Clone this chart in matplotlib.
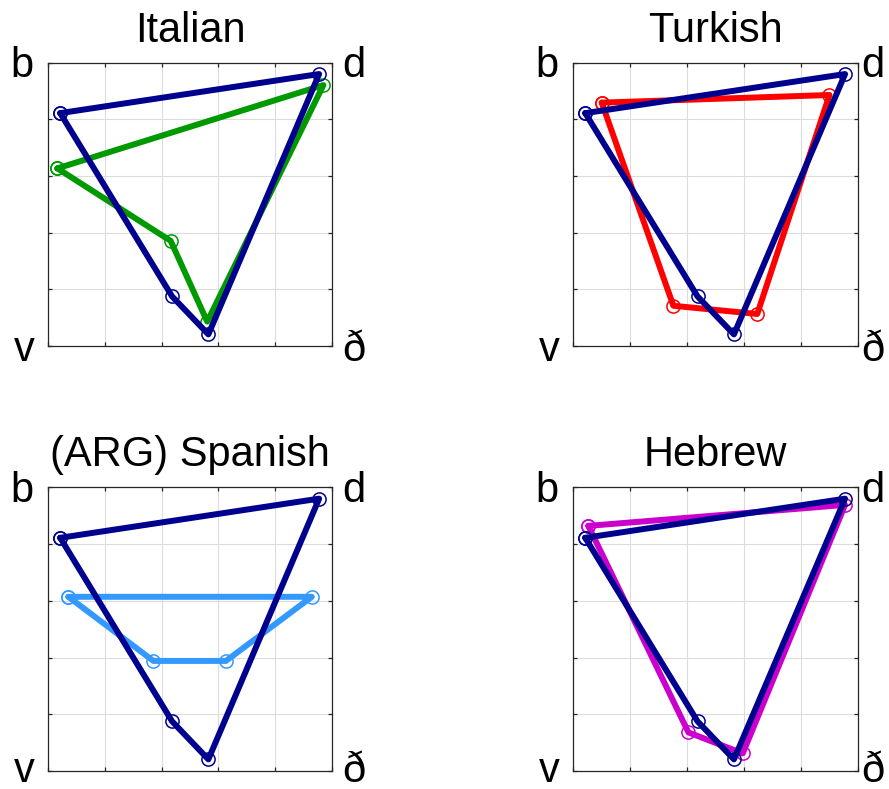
import matplotlib
matplotlib.use("Agg")
import matplotlib.pyplot as plt
import numpy as np

plt.rcParams['font.family'] = ['Liberation Sans', 'DejaVu Sans']

# Corner consonants (order of the polygon vertices)
corners = ['b', 'd', 'ð', 'v']

# Reference polygon, drawn in every panel
ref_x = [0.042, 0.956, 0.565, 0.437]
ref_y = [0.822, 0.960, 0.041, 0.175]

# Language polygons
italian_x = [0.032, 0.971, 0.561, 0.432]
italian_y = [0.627, 0.921, 0.086, 0.371]
turkish_x = [0.100, 0.901, 0.647, 0.352]
turkish_y = [0.859, 0.886, 0.113, 0.142]
spanish_x = [0.071, 0.930, 0.627, 0.371]
spanish_y = [0.614, 0.614, 0.388, 0.388]
hebrew_x = [0.053, 0.956, 0.596, 0.405]
hebrew_y = [0.864, 0.938, 0.062, 0.136]

titles = ['Italian', 'Turkish', '(ARG) Spanish', 'Hebrew']
series_x = [italian_x, turkish_x, spanish_x, hebrew_x]
series_y = [italian_y, turkish_y, spanish_y, hebrew_y]
colors = ['#009900', '#FF0000', '#3399FF', '#CC00CC']
ref_color = '#00008F'

W, H = 889, 789
fig = plt.figure(figsize=(W / 100, H / 100), dpi=100)

# axes boxes in pixels: (left, top, width, height)
boxes = [(48.3, 62.7, 283.3, 283.3), (573.3, 62.7, 284.3, 283.3),
         (48.3, 487.3, 283.3, 283.7), (573.3, 487.3, 284.3, 283.7)]

ticks = np.linspace(0, 1, 6)


def closed(v):
    return list(v) + [v[0]]


fs = 30
for i, (l, t, w, h) in enumerate(boxes):
    ax = fig.add_axes([l / W, (H - t - h) / H, w / W, h / H])
    ax.set_xlim(0, 1)
    ax.set_ylim(0, 1)
    ax.set_xticks(ticks)
    ax.set_yticks(ticks)
    ax.set_xticklabels([])
    ax.set_yticklabels([])
    ax.tick_params(direction='in', length=2.8, width=0.9, color='#262626',
                   top=True, right=True)
    ax.grid(True, color='#DCDCDC', linewidth=0.8)
    ax.set_axisbelow(True)
    for s in ax.spines.values():
        s.set_color('#262626')
        s.set_linewidth(0.9)

    mk = dict(marker='o', markersize=9.5, markerfacecolor='none',
              markeredgewidth=1.1, linewidth=4.3, solid_joinstyle='round',
              solid_capstyle='round', clip_on=False)
    ax.plot(closed(series_x[i]), closed(series_y[i]), color=colors[i], **mk)
    ax.plot(closed(ref_x), closed(ref_y), color=ref_color, **mk)

    ax.set_title(titles[i], fontsize=fs, pad=15)

    right_gap = 11 if i % 2 == 0 else 4
    low_dy = -14.5 if i < 2 else -10.5
    ax.annotate(corners[0], xy=(0, 1), xycoords='axes fraction',
                xytext=(-15, -14.5), textcoords='offset pixels',
                ha='right', va='baseline', fontsize=fs)
    ax.annotate(corners[1], xy=(1, 1), xycoords='axes fraction',
                xytext=(right_gap, -14.5), textcoords='offset pixels',
                ha='left', va='baseline', fontsize=fs)
    ax.annotate(corners[2], xy=(1, 0), xycoords='axes fraction',
                xytext=(right_gap, low_dy), textcoords='offset pixels',
                ha='left', va='baseline', fontsize=fs)
    ax.annotate(corners[3], xy=(0, 0), xycoords='axes fraction',
                xytext=(-14, low_dy), textcoords='offset pixels',
                ha='right', va='baseline', fontsize=fs)

fig.savefig('out.png', dpi=100)
